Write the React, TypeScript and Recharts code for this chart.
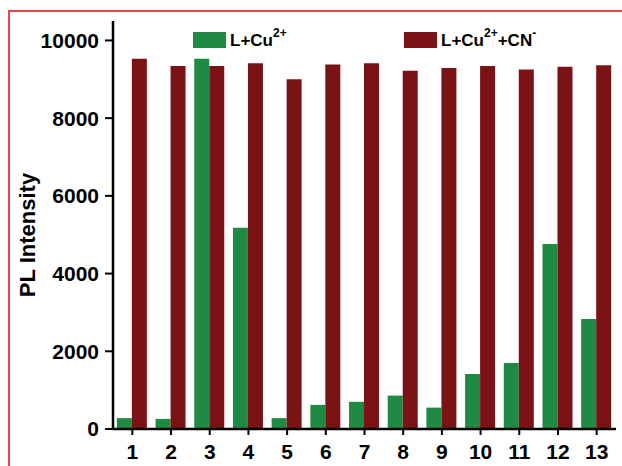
import * as React from "react";
import {
  BarChart,
  Bar,
  XAxis,
  YAxis,
  Legend,
} from "recharts";

// sample numbers along the x axis
const categories = ["1", "2", "3", "4", "5", "6", "7", "8", "9", "10", "11", "12", "13"];
// PL intensity, L + Cu2+
const cuValues = [280, 260, 9530, 5180, 280, 620, 700, 860, 550, 1415, 1700, 4760, 2830];
// PL intensity, L + Cu2+ + CN-
const cuCnValues = [9530, 9340, 9340, 9415, 9000, 9380, 9415, 9220, 9290, 9340, 9250, 9320, 9360];
const yTicks = [0, 2000, 4000, 6000, 8000, 10000];

const data = categories.map((name, i) => ({
  name,
  cu: cuValues[i],
  cucn: cuCnValues[i],
}));

const FONT = "'Liberation Sans', Arial, sans-serif";
const GREEN = "#1f8a44";
const RED = "#7a1216";

const sup: React.CSSProperties = {
  fontSize: 12,
  position: "relative",
  top: -9,
  verticalAlign: "baseline",
};

const legendLabels: Record<string, React.ReactNode> = {
  cu: (
    <>
      L+Cu<span style={sup}>2+</span>
    </>
  ),
  cucn: (
    <>
      L+Cu<span style={sup}>2+</span>+CN<span style={sup}>-</span>
    </>
  ),
};

const legendPos: Record<string, number> = { cu: 193, cucn: 404 };

const LegendBox = (props: any) => {
  const items = props.payload || [];
  return (
    <div style={{ position: "relative", width: 622, height: 60 }}>
      {items.map((item: any) => {
        const key = item.dataKey as string;
        const x = legendPos[key];
        return (
          <React.Fragment key={key}>
            <div
              style={{
                position: "absolute",
                left: x,
                top: 32,
                width: 33,
                height: 16,
                background: item.color,
              }}
            />
            <span
              style={{
                position: "absolute",
                left: x + 37,
                top: 32,
                fontFamily: FONT,
                fontWeight: "bold",
                fontSize: 17,
                lineHeight: "17px",
                whiteSpace: "nowrap",
                color: "#000",
              }}
            >
              {legendLabels[key]}
            </span>
          </React.Fragment>
        );
      })}
    </div>
  );
};

const YLabel = () => (
  <text
    x={35}
    y={235}
    transform="rotate(-90 35 235)"
    textAnchor="middle"
    fontFamily={FONT}
    fontWeight="bold"
    fontSize={22}
    fill="#000"
  >
    PL Intensity
  </text>
);

const tickStyle = {
  fontFamily: FONT,
  fontWeight: "bold",
  fontSize: 21,
  fill: "#000",
};

export default function App() {
  return (
    <div style={{ position: "absolute", left: 0, top: 0, width: 622, height: 466, background: "#fff" }}>
      <div
        style={{
          position: "absolute",
          left: 8,
          top: 10,
          width: 614,
          height: 456,
          borderTop: "2px solid #e8474c",
          borderLeft: "2px solid #e8474c",
          boxSizing: "border-box",
        }}
      />
      <BarChart
        width={622}
        height={466}
        data={data}
        margin={{ top: 21, right: 6, bottom: 0, left: 0 }}
        barCategoryGap="10%"
        barGap={0}
      >
        <XAxis
          dataKey="name"
          height={37}
          tick={tickStyle}
          tickSize={6}
          tickMargin={9}
          axisLine={{ stroke: "#000", strokeWidth: 2.5 }}
          tickLine={{ stroke: "#000", strokeWidth: 2 }}
          interval={0}
        />
        <XAxis
          xAxisId="top"
          dataKey="name"
          orientation="top"
          height={0}
          tick={false}
          tickLine={false}
          axisLine={{ stroke: "#000", strokeWidth: 2.5 }}
        />
        <YAxis
          width={113}
          domain={[0, 10500]}
          ticks={yTicks}
          tick={tickStyle}
          tickSize={8}
          tickMargin={6}
          axisLine={{ stroke: "#000", strokeWidth: 2.5 }}
          tickLine={{ stroke: "#000", strokeWidth: 2 }}
          label={<YLabel />}
        />
        <YAxis
          yAxisId="right"
          orientation="right"
          width={0}
          domain={[0, 10500]}
          tick={false}
          tickLine={false}
          axisLine={{ stroke: "#000", strokeWidth: 2.5 }}
        />
        <Legend
          verticalAlign="middle"
          align="center"
          wrapperStyle={{ left: 0, top: 0, width: 622, height: 60 }}
          content={<LegendBox />}
        />
        <Bar dataKey="cu" name="L+Cu2+" fill={GREEN} isAnimationActive={false} />
        <Bar dataKey="cucn" name="L+Cu2++CN-" fill={RED} isAnimationActive={false} />
      </BarChart>
    </div>
  );
}
